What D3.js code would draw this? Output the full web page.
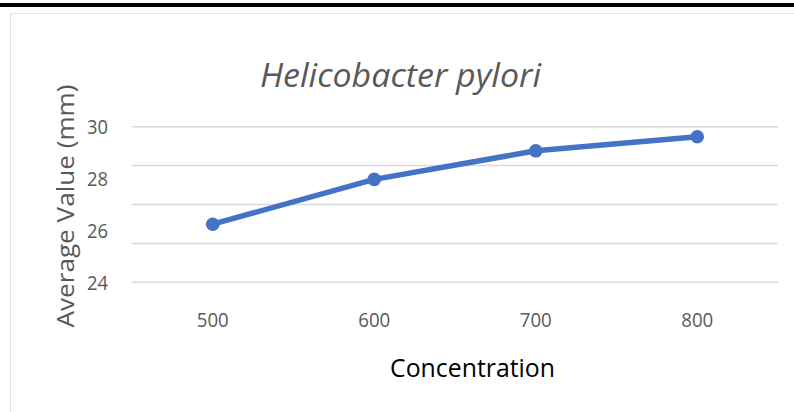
<!DOCTYPE html>
<html>
<head>
<meta charset="utf-8">
<script src="https://cdn.jsdelivr.net/npm/d3@7"></script>
<style>
  body { margin: 0; background: #fff; }
  svg { display: block; font-family: "Open Sans", sans-serif; }
</style>
</head>
<body>
<div id="chart"></div>
<script>
var width = 794;
var height = 412;

// data
var concentrations = ["500", "600", "700", "800"];
var averageValues = [26.24, 27.97, 29.07, 29.61];
var gridValues = [24, 25.5, 27, 28.5, 30];
var yTickLabels = [24, 26, 28, 30];

const svg = d3.select("#chart")
    .append("svg")
    .attr("width", width)
    .attr("height", height);

// frame bits around the chart
svg.append("rect")
    .attr("x", 0).attr("y", 3)
    .attr("width", width).attr("height", 4)
    .attr("fill", "#000");
svg.append("line")
    .attr("x1", 10).attr("x2", width)
    .attr("y1", 13.5).attr("y2", 13.5)
    .attr("stroke", "#e6e6e6").attr("stroke-width", 1);
svg.append("line")
    .attr("x1", 10.5).attr("x2", 10.5)
    .attr("y1", 13).attr("y2", height)
    .attr("stroke", "#e0e0e0").attr("stroke-width", 1);

var x = d3.scaleBand()
    .domain(concentrations)
    .range([132, 778])
    .padding(0);

var y = d3.scaleLinear()
    .domain([24, 30])
    .range([282.3, 126.7]);

// gridlines
svg.selectAll(".grid")
    .data(gridValues)
    .enter().append("line")
    .attr("class", "grid")
    .attr("x1", 132).attr("x2", 778)
    .attr("y1", function (d) { return y(d); })
    .attr("y2", function (d) { return y(d); })
    .attr("stroke", "#d9d9d9")
    .attr("stroke-width", 1.5);

// y tick labels
svg.selectAll(".ylab")
    .data(yTickLabels)
    .enter().append("text")
    .attr("class", "ylab")
    .attr("x", 108)
    .attr("y", function (d) { return y(d); })
    .attr("dy", "0.36em")
    .attr("text-anchor", "end")
    .attr("font-size", 20)
    .attr("fill", "#595959")
    .attr("textLength", 21)
    .attr("lengthAdjust", "spacingAndGlyphs")
    .text(function (d) { return d; });

// x tick labels
svg.selectAll(".xlab")
    .data(concentrations)
    .enter().append("text")
    .attr("class", "xlab")
    .attr("x", function (d) { return x(d) + x.bandwidth() / 2; })
    .attr("y", 326.5)
    .attr("text-anchor", "middle")
    .attr("font-size", 20)
    .attr("fill", "#595959")
    .attr("textLength", 32)
    .attr("lengthAdjust", "spacingAndGlyphs")
    .text(function (d) { return d; });

var points = concentrations.map(function (c, i) { return { c: c, v: averageValues[i] }; });

var line = d3.line()
    .x(function (d) { return x(d.c) + x.bandwidth() / 2; })
    .y(function (d) { return y(d.v); });

svg.append("path")
    .datum(points)
    .attr("fill", "none")
    .attr("stroke", "#4472c4")
    .attr("stroke-width", 5.5)
    .attr("stroke-linejoin", "round")
    .attr("d", line);

svg.selectAll(".dot")
    .data(points)
    .enter().append("circle")
    .attr("class", "dot")
    .attr("cx", function (d) { return x(d.c) + x.bandwidth() / 2; })
    .attr("cy", function (d) { return y(d.v); })
    .attr("r", 6.8)
    .attr("fill", "#4472c4");

// title
svg.append("text")
    .attr("x", 260)
    .attr("y", 86.5)
    .attr("font-size", 32)
    .attr("font-style", "italic")
    .attr("fill", "#595959")
    .attr("textLength", 281)
    .attr("lengthAdjust", "spacingAndGlyphs")
    .text("Helicobacter pylori");

// axis titles
svg.append("text")
    .attr("transform", "translate(74,206) rotate(-90)")
    .attr("text-anchor", "middle")
    .attr("font-size", 24)
    .attr("fill", "#595959")
    .attr("textLength", 243)
    .attr("lengthAdjust", "spacingAndGlyphs")
    .text("Average Value (mm)");

svg.append("text")
    .attr("x", 390)
    .attr("y", 376.5)
    .attr("font-size", 26)
    .attr("fill", "#000")
    .attr("textLength", 165)
    .attr("lengthAdjust", "spacingAndGlyphs")
    .text("Concentration");
</script>
</body>
</html>
